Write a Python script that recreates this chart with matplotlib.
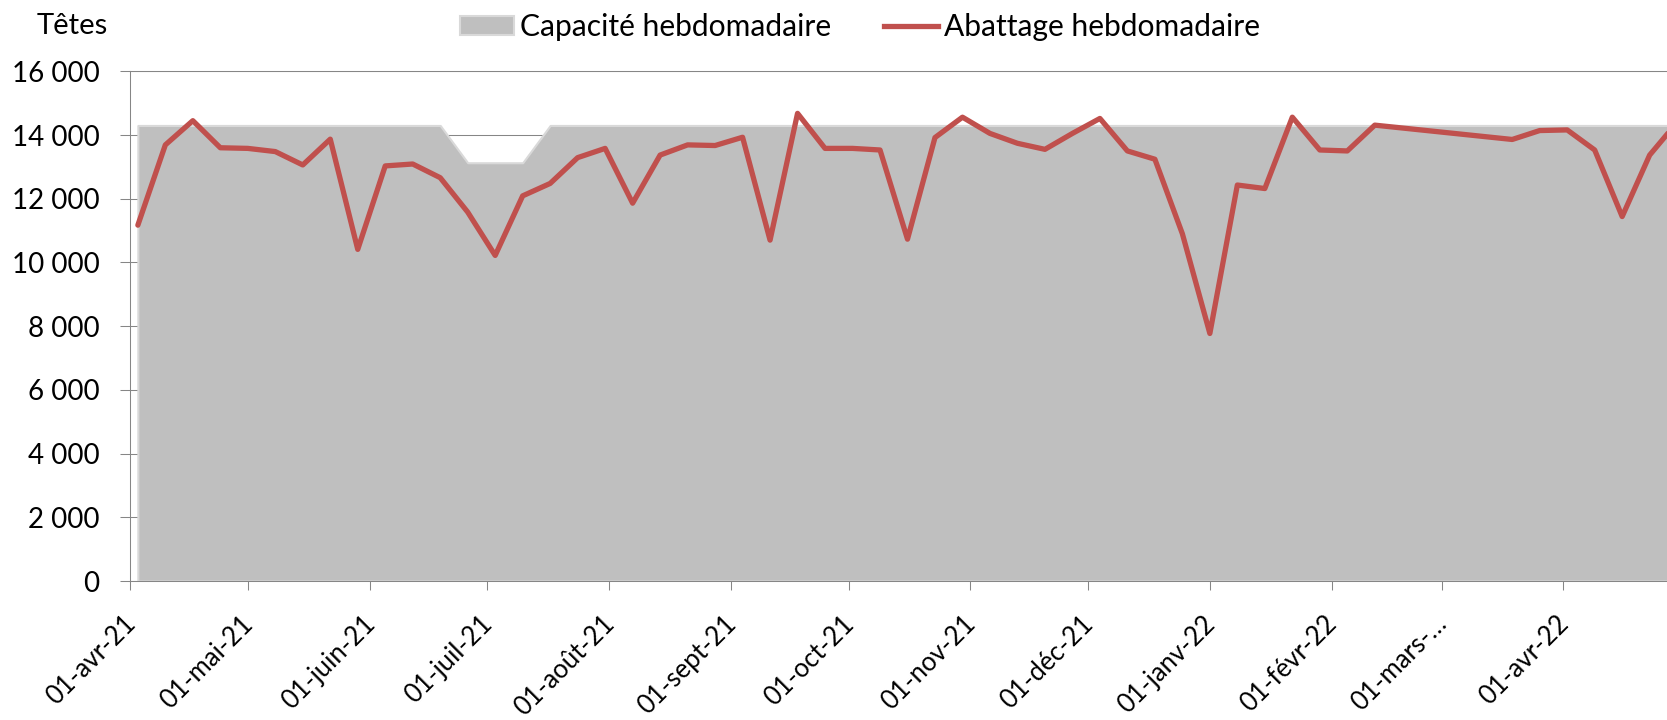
import pandas as pd
import matplotlib
matplotlib.use("Agg")
import matplotlib.pyplot as plt
from matplotlib.patches import Patch
from matplotlib.lines import Line2D

plt.rcParams['font.family'] = ['Lato', 'DejaVu Sans']

# -------------------------------
# Weekly data (week ending Saturday)
# -------------------------------

all_weeks = pd.date_range("2021-04-03", "2022-04-30", freq="7D")
missing_weeks = pd.to_datetime(["2022-02-19", "2022-02-26", "2022-03-05", "2022-03-12"])
weeks = all_weeks.difference(missing_weeks)

abattage = [
    11170, 13690, 14450, 13600, 13580, 13480, 13060, 13870, 10410, 13030,
    13090, 12660, 11580, 10220, 12090, 12480, 13290, 13580, 11860, 13370,
    13690, 13670, 13930, 10700, 14680, 13580, 13580, 13530, 10730, 13920,
    14560, 14050, 13740, 13550, 14050, 14520, 13500, 13240, 10900, 7770,
    12430, 12320, 14560, 13530, 13500, 14310,
    13860, 14140, 14160, 13530, 11440, 13370, 14400,
]

capacite = [14300] * len(weeks)
capacite[12] = 13130
capacite[13] = 13130
capacite[14] = 13130

month_ticks = pd.date_range("2021-04-01", "2022-04-01", freq="MS")
month_labels = [
    "01-avr-21", "01-mai-21", "01-juin-21", "01-juil-21", "01-août-21",
    "01-sept-21", "01-oct-21", "01-nov-21", "01-déc-21", "01-janv-22",
    "01-févr-22", "01-mars-…", "01-avr-22",
]

y_ticks = list(range(0, 16001, 2000))

# -------------------------------
# Figure
# -------------------------------

W, H = 1667, 720
fig = plt.figure(figsize=(W / 100, H / 100), dpi=100)
ax = fig.add_axes([130 / W, 1 - 581 / H, 1 - 130 / W, (581 - 71.3) / H])

axis_grey = "#868686"

ax.fill_between(weeks, capacite, 0, facecolor="#BFBFBF", edgecolor="#D9D9D9",
                linewidth=1.5, zorder=2)
ax.plot(weeks, abattage, color="#C0504D", linewidth=3.8,
        solid_joinstyle="round", solid_capstyle="round", zorder=3)

ax.set_xlim(pd.Timestamp("2021-04-01"), pd.Timestamp("2022-04-27 10:00"))
ax.set_ylim(0, 16000)

ax.set_yticks(y_ticks)
ax.set_yticklabels([f"{v:,}".replace(",", " ") for v in y_ticks])
ax.set_xticks(month_ticks)
ax.set_xticklabels([])

ax.tick_params(axis="y", length=7, width=0.75, color=axis_grey, pad=15,
               labelsize=20)
ax.tick_params(axis="x", length=6.5, width=0.75, color=axis_grey)

# rotated month labels, ending just under each tick
for d, lab in zip(month_ticks, month_labels):
    ax.annotate(lab, xy=(d, 0), xycoords=("data", "axes fraction"),
                xytext=(5, -32), textcoords="offset points",
                rotation=45, rotation_mode="anchor", ha="right",
                va="baseline", fontsize=18.5, annotation_clip=False)

ax.set_axisbelow(True)
ax.yaxis.grid(True, color=axis_grey, linewidth=0.75)

for side in ["left", "bottom", "top"]:
    ax.spines[side].set_color(axis_grey)
    ax.spines[side].set_linewidth(0.75)
ax.spines["right"].set_visible(False)

# Legend
handles = [
    Patch(facecolor="#BFBFBF", edgecolor="#D9D9D9", linewidth=1.5),
    Line2D([0], [0], color="#C0504D", linewidth=3.8),
]
fig.legend(handles, ["Capacité hebdomadaire", "Abattage hebdomadaire"],
           loc="center", bbox_to_anchor=(860 / W, 1 - 27 / H), ncol=2,
           frameon=False, fontsize=21.6, borderpad=0, handlelength=1.8,
           handleheight=0.59, handletextpad=0.21, columnspacing=1.77)

fig.text(37 / W, 1 - 34 / H, "Têtes", ha="left", va="baseline", fontsize=21)

fig.savefig("out.png", dpi=100)
